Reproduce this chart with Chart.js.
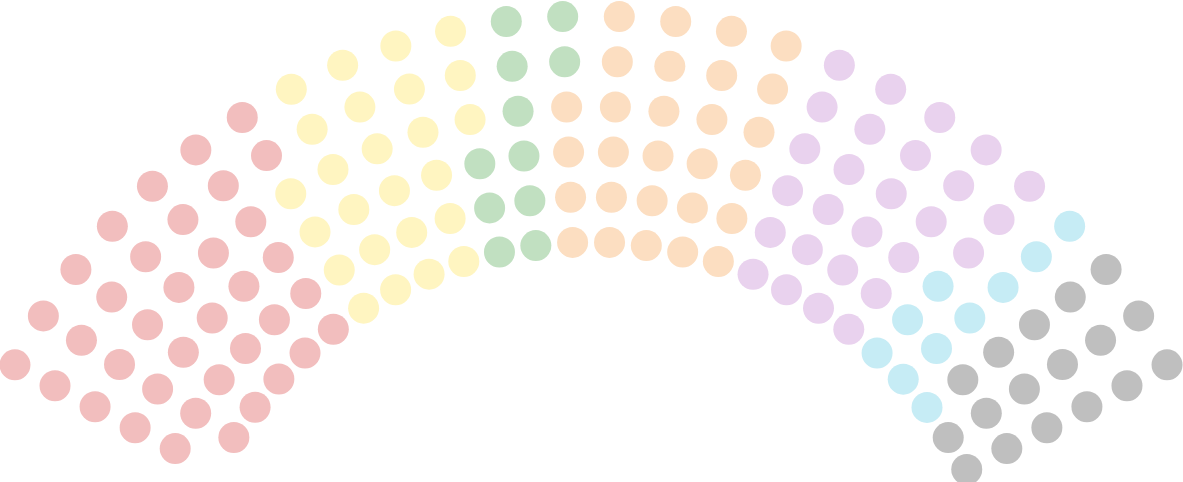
<!DOCTYPE html>
<html>
<head>
<meta charset="utf-8">
<script src="https://cdn.jsdelivr.net/npm/chart.js@4/dist/chart.umd.min.js"></script>
<style>
  html, body { margin: 0; padding: 0; background: #ffffff; }
  #wrap { width: 1183px; height: 482px; position: relative; }
</style>
</head>
<body>
<div id="wrap"><canvas id="c"></canvas></div>
<script>
// ---- Data (seats per party, left to right) ----
const parties = ['Party A', 'Party B', 'Party C', 'Party D', 'Party E', 'Party F', 'Party G'];
const seats = [37, 25, 11, 28, 27, 10, 17];
const colors = ['#f2bebe', '#fff5c1', '#c1e0c1', '#fcdec1', '#e9d2ee', '#c6ecf5', '#bfbfbf'];

// ---- Layout of the hemicycle (rows from outer to inner) ----
const seatsPerRow = [26, 26, 26, 26, 26, 25];
const R_OUTER = 650;
const ROW_GAP = 45.2;
// arc ends of each row, degrees measured from the left
const rowStartDeg = [27.6, 27.6, 27.6, 27.6, 27.6, 32.613];
const rowEndDeg   = [152.4, 152.4, 152.4, 152.4, 152.4, 152.397];

// build the slots row by row, then order them by angle (stable: outer rows first on ties)
const slots = [];
for (let r = 0; r < seatsPerRow.length; r++) {
  const n = seatsPerRow[r];
  const rad = R_OUTER - r * ROW_GAP;
  for (let j = 0; j < n; j++) {
    const deg = rowStartDeg[r] + j * (rowEndDeg[r] - rowStartDeg[r]) / (n - 1);
    const ang = deg * Math.PI / 180;
    slots.push({ deg, row: r, x: -rad * Math.cos(ang), y: rad * Math.sin(ang) });
  }
}
slots.sort((a, b) => (a.deg - b.deg) || (a.row - b.row));

let idx = 0;
const datasets = parties.map((name, p) => {
  const pts = slots.slice(idx, idx + seats[p]).map(s => ({ x: s.x, y: s.y }));
  idx += seats[p];
  return {
    label: name,
    data: pts,
    backgroundColor: colors[p],
    borderWidth: 0,
    pointRadius: 15.5,
    pointHoverRadius: 15.5,
    pointBorderWidth: 0,
    clip: false
  };
});

new Chart(document.getElementById('c'), {
  type: 'scatter',
  data: { datasets },
  options: {
    responsive: true,
    maintainAspectRatio: false,
    animation: false,
    layout: { padding: 0, autoPadding: false },
    plugins: { legend: { display: false }, tooltip: { enabled: true } },
    scales: {
      x: { type: 'linear', display: false, min: -591, max: 592 },
      y: { type: 'linear', display: false, min: 184, max: 666 }
    }
  }
});
</script>
</body>
</html>
